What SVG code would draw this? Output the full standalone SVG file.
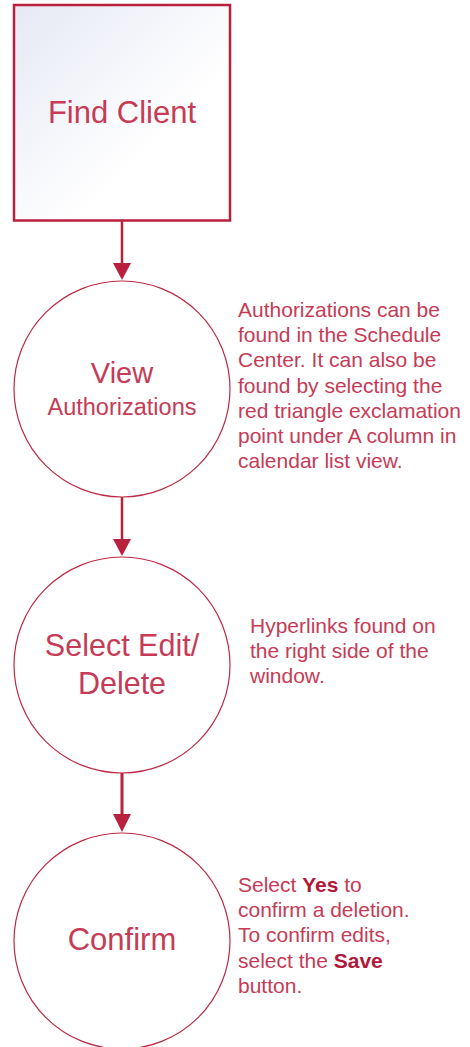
<svg xmlns="http://www.w3.org/2000/svg" width="470" height="1047" viewBox="0 0 470 1047">
<style>
.node{fill:#ffffff;stroke:#bd2a45;stroke-width:1.2}
.t{font-family:"Liberation Sans",Arial,sans-serif;fill:#c63b56;text-anchor:middle}
.n{font-family:"Liberation Sans",Arial,sans-serif;fill:#c63b56;font-size:21px}
.b{font-weight:bold;fill:#b2183a}
.conn{stroke:#b8203d;stroke-width:2.5;fill:none}
.head{fill:#b8203d}
</style>
<defs>
<linearGradient id="g" x1="0" y1="0" x2="1" y2="1">
<stop offset="0" stop-color="#e6e9f4"/>
<stop offset="0.65" stop-color="#ffffff"/>
</linearGradient>
</defs>
<rect width="470" height="1047" fill="#ffffff"/>
<g id="connectors">
<line class="conn" x1="122" y1="221" x2="122" y2="265"/>
<polygon class="head" points="113,263 131,263 122,280"/>
<line class="conn" x1="122" y1="497" x2="122" y2="541"/>
<polygon class="head" points="113,539 131,539 122,556"/>
<line class="conn" x1="122" y1="773" x2="122" y2="816" style="stroke-width:3"/>
<polygon class="head" points="113,814 131,814 122,832"/>
</g>
<g id="find-client">
<rect x="14" y="5" width="216" height="215.5" fill="url(#g)" stroke="#b8203d" stroke-width="2.5"/>
<text class="t" x="122" y="123" font-size="31">Find Client</text>
</g>
<g id="view-authorizations">
<circle class="node" cx="122" cy="389" r="108"/>
<text class="t" x="122" y="383" font-size="29">View</text>
<text class="t" x="122" y="415" font-size="23.5">Authorizations</text>
</g>
<g id="note-authorizations">
<text class="n" x="238" y="317">Authorizations can be</text>
<text class="n" x="238" y="342">found in the Schedule</text>
<text class="n" x="238" y="367">Center. It can also be</text>
<text class="n" x="238" y="393">found by selecting the</text>
<text class="n" x="238" y="418">red triangle exclamation</text>
<text class="n" x="238" y="443">point under A column in</text>
<text class="n" x="238" y="468">calendar list view.</text>
</g>
<g id="select-edit-delete">
<circle class="node" cx="122" cy="665" r="108"/>
<text class="t" x="122" y="656" font-size="30.5">Select Edit/</text>
<text class="t" x="122" y="694" font-size="30.5">Delete</text>
</g>
<g id="note-hyperlinks">
<text class="n" x="250" y="633">Hyperlinks found on</text>
<text class="n" x="250" y="658">the right side of the</text>
<text class="n" x="250" y="683">window.</text>
</g>
<g id="confirm">
<circle class="node" cx="122" cy="941" r="108"/>
<text class="t" x="122" y="950" font-size="31">Confirm</text>
</g>
<g id="note-confirm">
<text class="n" x="238" y="892">Select <tspan class="b">Yes</tspan> to</text>
<text class="n" x="238" y="917">confirm a deletion.</text>
<text class="n" x="238" y="942">To confirm edits,</text>
<text class="n" x="238" y="968">select the <tspan class="b">Save</tspan></text>
<text class="n" x="238" y="993">button.</text>
</g>
</svg>
